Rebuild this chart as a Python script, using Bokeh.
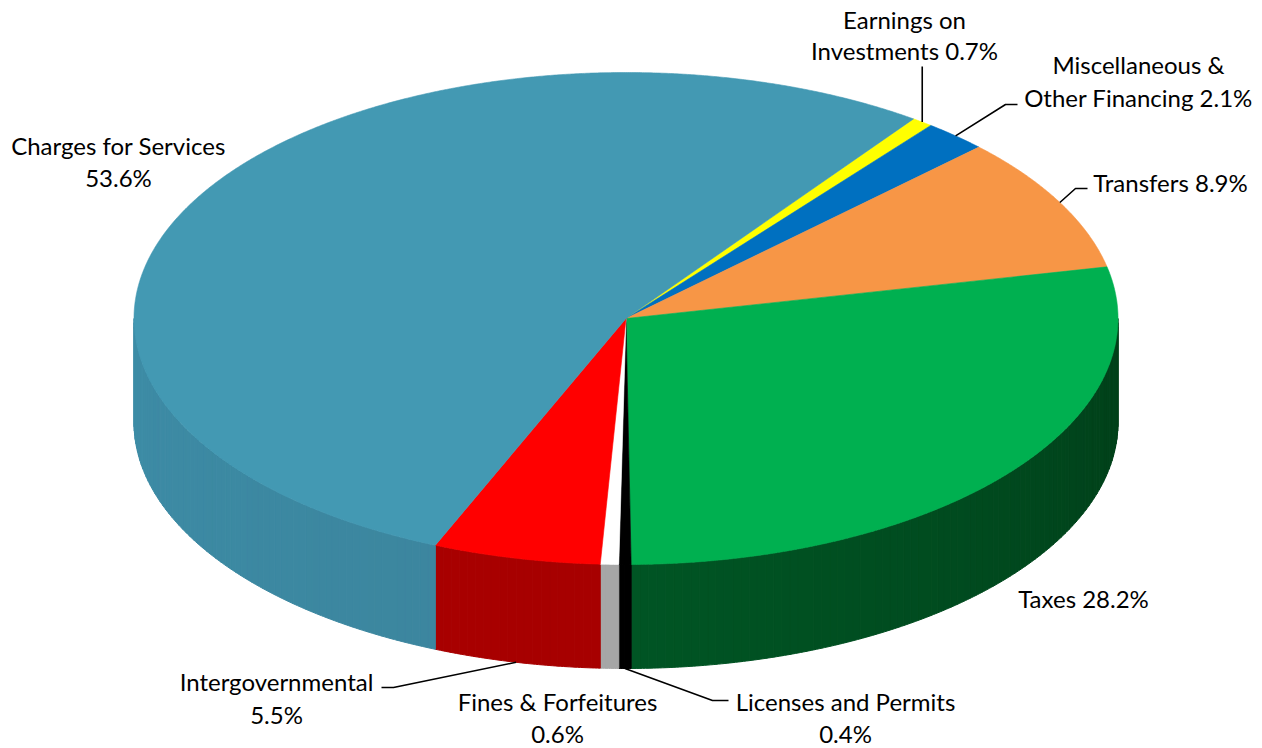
import numpy as np
from bokeh.plotting import figure
from bokeh.models import Range1d
from bokeh.embed import file_html
from bokeh.resources import INLINE
from bokeh.core.properties import value

# ---------------- data ----------------
categories = ["Earnings on Investments", "Miscellaneous & Other Financing", "Transfers",
              "Taxes", "Licenses and Permits", "Fines & Forfeitures",
              "Intergovernmental", "Charges for Services"]
shares = [0.7, 2.1, 8.9, 28.2, 0.4, 0.6, 5.5, 53.6]
label_first_lines = ["Earnings on", "Miscellaneous &", "", "", "Licenses and Permits",
                     "Fines & Forfeitures", "Intergovernmental", "Charges for Services"]
label_second_lines = ["Investments", "Other Financing", "Transfers", "Taxes", "",
                      "", "", ""]

# ---------------- styles ----------------
top_colors = ["#FFFF00", "#0070C0", "#F79646", "#00B050", "#000000", "#FFFFFF", "#FF0000", "#4399B3"]
side_right = ["#B0B000", "#004E86", "#B06020", "#003F19", "#000000", "#A6A6A6", "#A40000", "#3A7C92"]
side_left = ["#B0B000", "#004E86", "#B06020", "#006B2F", "#000000", "#A6A6A6", "#AA0000", "#3D8CA6"]

CX, CY, RX, RY, DEPTH = 625.5, 318.0, 492.0, 246.0, 104.0
START = 35.76  # degrees clockwise from 12 o'clock

FONT = "Lato"
FS = "24px"

W, H = 1262, 748

# label layout: list of (x, y) per line, and leader path (elbow, end) or None
label_layout = [
    ([(904, 19), (904, 50)], [(None, 66)]),
    ([(1138, 64), (1138, 97)], [(1005, 104), (1017, 104)]),
    ([(1170, 182)], [(1075, 188), (1087, 188)]),
    ([(1083, 598)], None),
    ([(845, 701), (845, 733)], [(712, 700), (728, 700)]),
    ([(557, 701), (557, 733)], None),
    ([(276, 681), (276, 714)], [(393, 687), (381, 687)]),
    ([(118, 145), (118, 177)], None),
]


def px(t):
    return CX + RX * np.sin(np.radians(t))


def py(t):
    return CY - RY * np.cos(np.radians(t))


def hex2rgb(h):
    h = h.lstrip("#")
    return np.array([int(h[i:i + 2], 16) for i in (0, 2, 4)], dtype=float)


def mix(c1, c2, f):
    c = hex2rgb(c1) * (1 - f) + hex2rgb(c2) * f
    return "#%02x%02x%02x" % tuple(int(round(v)) for v in c)


p = figure(width=W, height=H, x_range=Range1d(0, W), y_range=Range1d(H, 0),
           output_backend="svg", toolbar_location=None, min_border=0)
p.axis.visible = False
p.grid.visible = False
p.outline_line_color = None
p.background_fill_color = "white"
p.border_fill_color = "white"

bounds = START + np.concatenate([[0], np.cumsum(shares)]) * 3.6

# side walls
wx, wy, wc = [], [], []
for i in range(len(shares)):
    a, b = bounds[i], bounds[i + 1]
    lo, hi = max(a, 90.0), min(b, 270.0)
    if hi <= lo:
        continue
    n = max(1, int(np.ceil(hi - lo)))
    edges = np.linspace(lo, hi, n + 1)
    for k in range(n):
        t0, t1 = edges[k], edges[k + 1]
        ts = np.linspace(t0, t1, 4)
        xs = list(px(ts)) + list(px(ts[::-1]))
        ys = list(py(ts)) + list(py(ts[::-1]) + DEPTH)
        f = ((t0 + t1) / 2 - 90.0) / 180.0
        wx.append(xs)
        wy.append(ys)
        wc.append(mix(side_right[i], side_left[i], f))
p.patches(wx, wy, fill_color=wc, line_color=wc, line_width=1)

# top wedges
tx, ty = [], []
for i in range(len(shares)):
    a, b = bounds[i], bounds[i + 1]
    ts = np.linspace(a, b, max(3, int((b - a) * 4)))
    tx.append([CX] + list(px(ts)))
    ty.append([CY] + list(py(ts)))
p.patches(tx, ty, fill_color=top_colors, line_color=top_colors, line_width=0.6)

# labels and leader lines
for i, cat in enumerate(categories):
    pct = f"{shares[i]:.1f}%"
    lines_pos, leader = label_layout[i]
    if len(lines_pos) == 2:
        if label_second_lines[i]:
            texts = [label_first_lines[i], f"{label_second_lines[i]} {pct}"]
        else:
            texts = [label_first_lines[i], pct]
    else:
        texts = [f"{label_second_lines[i]} {pct}"]
    p.text(x=[q[0] for q in lines_pos], y=[q[1] for q in lines_pos], text=texts,
           text_align="center", text_baseline="middle", text_font=value(FONT),
           text_font_size=FS, text_color="#000000")
    if leader:
        mid = (bounds[i] + bounds[i + 1]) / 2
        ax, ay = px(mid), py(mid)
        if 90 < mid < 270:
            ay += DEPTH
        xs, ys = [ax], [ay]
        for (lx, ly) in leader:
            xs.append(ax if lx is None else lx)
            ys.append(ly)
        p.line(xs, ys, line_color="#000000", line_width=1.6)

open("out.html", "w").write(file_html(p, INLINE))
